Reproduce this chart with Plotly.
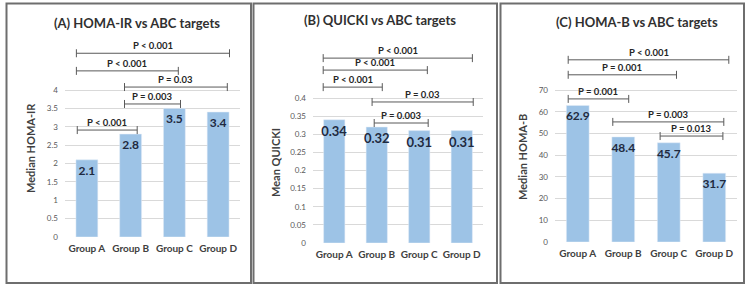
import plotly.graph_objects as go

groups = ["Group A", "Group B", "Group C", "Group D"]
homa_ir = [2.1, 2.8, 3.5, 3.4]
quicki = [0.34, 0.32, 0.31, 0.31]
homa_b = [62.9, 48.4, 45.7, 31.7]

titles = ["(A) HOMA-IR vs ABC targets", "(B) QUICKI vs ABC targets", "(C) HOMA-B vs ABC targets"]
ytitles = ["Median HOMA-IR", "Mean QUICKI", "Median HOMA-B"]

# significance brackets: (label, x start, x end, y level) in category/data units
brackets_a = [("P < 0.001", -0.24, 3.26, 5.0), ("P < 0.001", -0.24, 2.09, 4.52),
              ("P = 0.03", 0.86, 3.21, 4.08), ("P = 0.003", 0.86, 2.14, 3.62),
              ("P < 0.001", -0.22, 1.15, 2.91)]
brackets_b = [("P < 0.001", -0.26, 3.25, 0.51), ("P < 0.001", -0.26, 2.19, 0.477),
              ("P < 0.001", -0.26, 1.13, 0.43), ("P = 0.03", 0.89, 3.27, 0.389),
              ("P = 0.003", 0.94, 2.21, 0.331)]
brackets_c = [("P < 0.001", -0.21, 3.32, 83.9), ("P = 0.001", -0.21, 2.17, 77.0),
              ("P = 0.001", -0.21, 1.12, 65.9), ("P = 0.003", 0.77, 3.21, 55.3),
              ("P = 0.013", 1.81, 3.19, 48.8)]

W, H = 750, 288
FONT = "Lato"
BAR = "#9DC3E6"
DARK = "#404040"
VAL = "#1F2A40"

panels = [
    dict(vals=homa_ir, fmt="%{y:.1f}", br=brackets_a, px=(65, 240), pb=237, rng=5.415,
         ticks=[0, 0.5, 1, 1.5, 2, 2.5, 3, 3.5, 4], tfmt=lambda v: f"{v:g}",
         title_xy=(137, 23), yt_xy=(30, 148), box=(6.5, 251)),
    dict(vals=quicki, fmt="%{y:.2f}", br=brackets_b, px=(313, 483), pb=243, rng=0.5655,
         ticks=[0, 0.05, 0.1, 0.15, 0.2, 0.25, 0.3, 0.35, 0.4], tfmt=lambda v: f"{v:g}",
         title_xy=(380, 20), yt_xy=(275, 163), box=(253.5, 497)),
    dict(vals=homa_b, fmt="%{y:.1f}", br=brackets_c, px=(555, 737), pb=242, rng=93.95,
         ticks=[0, 10, 20, 30, 40, 50, 60, 70], tfmt=lambda v: f"{v:g}",
         title_xy=(637, 22), yt_xy=(522, 157), box=(500.5, 744)),
]

fig = go.Figure()
shapes, annos = [], []
layout = {}
TOP = 38
for i, p in enumerate(panels):
    n = "" if i == 0 else str(i + 1)
    xa, ya = "x" + n, "y" + n
    fig.add_trace(go.Bar(
        x=groups, y=p["vals"], xaxis=xa, yaxis=ya, marker_color=BAR, width=0.5,
        texttemplate=p["fmt"], textposition="inside", insidetextanchor="end",
        constraintext="none", textangle=0,
        textfont=dict(family=FONT, size=13 if i == 1 else 12, color=VAL, weight="bold"),
        showlegend=False, hoverinfo="skip"))
    layout["xaxis" + n] = dict(
        domain=[p["px"][0] / W, p["px"][1] / W], anchor=ya, range=[-0.5, 3.5],
        showgrid=False, showline=False, zeroline=False, ticks="", automargin=False,
        tickfont=dict(family=FONT, size=10, color=DARK, weight="bold"),
        ticklabelstandoff=4, fixedrange=True)
    layout["yaxis" + n] = dict(
        domain=[(H - p["pb"]) / H, (H - TOP) / H], anchor=xa, range=[0, p["rng"]],
        tickvals=p["ticks"], ticktext=[p["tfmt"](v) for v in p["ticks"]],
        showgrid=True, gridcolor="#D9D9D9", gridwidth=1, zeroline=False, automargin=False,
        showline=False, ticks="", tickfont=dict(family=FONT, size=8, color="#595959"),
        ticklabelstandoff=6, fixedrange=True)
    # panel border
    bx0, bx1 = p["box"]
    shapes.append(dict(type="rect", xref="paper", yref="paper",
                       x0=bx0 / W, x1=bx1 / W, y0=(H - 283) / H, y1=(H - 3.5) / H,
                       line=dict(color="#6E6E6E", width=2), layer="below"))
    # titles
    tx, ty = p["title_xy"]
    annos.append(dict(text=titles[i], x=tx / W, y=(H - ty) / H, xref="paper", yref="paper",
                      showarrow=False, xanchor="center", yanchor="middle",
                      font=dict(family=FONT, size=13, color="#303030", weight="bold")))
    yx, yy = p["yt_xy"]
    annos.append(dict(text=ytitles[i], x=yx / W, y=(H - yy) / H, xref="paper", yref="paper",
                      showarrow=False, textangle=-90, xanchor="center", yanchor="middle",
                      font=dict(family=FONT, size=11, color=DARK, weight="bold")))
    # brackets
    for lab, x0, x1, yv in p["br"]:
        lc = dict(color="#595959", width=1)
        shapes.append(dict(type="line", xref=xa, yref=ya, x0=x0, x1=x1, y0=yv, y1=yv, line=lc))
        for xe in (x0, x1):
            shapes.append(dict(type="line", xref=xa, yref=ya, x0=xe, x1=xe,
                               ysizemode="pixel", yanchor=yv, y0=-4, y1=4, line=lc))
        annos.append(dict(text=lab, x=(x0 + x1) / 2, y=yv, xref=xa, yref=ya,
                          showarrow=False, xanchor="center", yanchor="bottom", yshift=0,
                          font=dict(family=FONT, size=9.5, color="#262626", weight="bold")))

fig.update_layout(**layout)
fig.update_layout(width=W, height=H, margin=dict(l=0, r=0, t=0, b=0, autoexpand=False),
                  paper_bgcolor="white", plot_bgcolor="white",
                  shapes=shapes, annotations=annos, bargap=0.5)
fig.write_html("out.html", config={"displayModeBar": False, "staticPlot": True},
               post_script="document.body.style.margin='0';document.body.style.overflow='hidden';")
